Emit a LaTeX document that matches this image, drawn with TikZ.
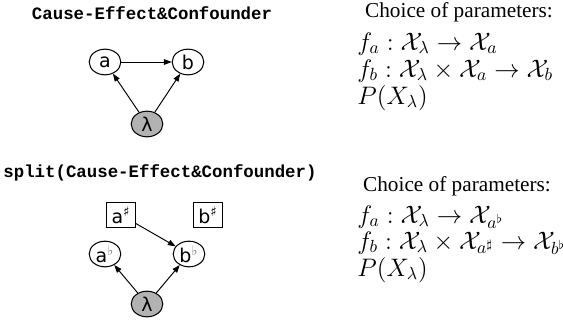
\documentclass[tikz,border=0pt]{standalone}
\usepackage{fontspec}
\usepackage{amsmath}
\setmainfont{Liberation Serif}
\setmonofont{Liberation Mono}
\newfontfamily\nodefont{DejaVu Sans}
\usepackage{tikz}
\usetikzlibrary{positioning, arrows.meta, shapes.geometric}
\usepackage{xcolor}

\tikzset{
  var/.style={ellipse, draw, line width=0.6pt, minimum width=18pt, minimum height=14.6pt,
              inner sep=0pt, font=\nodefont\fontsize{10.8}{11}\selectfont},
  hidden/.style={var, fill=gray!60},
  intv/.style={rectangle, draw, line width=0.6pt, minimum width=16pt, minimum height=14.4pt,
               inner sep=0pt, font=\nodefont\fontsize{10.8}{11}\selectfont},
  edge/.style={-{Triangle[length=4.4pt,width=3.2pt]}, line width=0.55pt},
  title/.style={font=\ttfamily\bfseries\fontsize{9.9}{11}\selectfont},
  param/.style={font=\fontsize{12.1}{14}\selectfont},
  eqn/.style={anchor=base west, inner sep=0pt, font=\fontsize{14.7}{17}\selectfont}
}

\begin{document}
\begin{tikzpicture}[x=0.02cm, y=-0.02cm]
    \useasboundingbox (0,0) rectangle (563,328);

    % top: the plain graph
    \node[title] (t1) at (152,13) {Cause-Effect\&Confounder};
    \node[var] (a) at (105,62) {a};
    \node[var] (b) at (188,62) {b};
    \node[hidden] (l) at (147,124) {λ};
    \foreach \u/\v in {a/b, l/a, l/b}
      \draw[edge] (\u) -- (\v);

    \node[param] (c1) at (459,12) {Choice of parameters:};
    \node[eqn] (e1) at (357,50) {$f_a : \mathcal{X}_\lambda \to \mathcal{X}_a$};
    \node[eqn] (e2) at (357,77) {$f_b : \mathcal{X}_\lambda \times \mathcal{X}_a \to \mathcal{X}_b$};
    \node[eqn] (e3) at (357,104) {$P(X_\lambda)$};

    % bottom: the split graph
    \node[title] (t2) at (160,173) {split(Cause-Effect\&Confounder)};
    \node[intv] (as) at (121,215) {a\textsuperscript{♯}};
    \node[intv] (bs) at (208,215) {b\textsuperscript{♯}};
    \node[var] (af) at (105,254) {a\textsuperscript{\color{gray}♭}};
    \node[var] (bf) at (189,254) {b\textsuperscript{\color{gray}♭}};
    \node[hidden] (l2) at (147,304) {λ};
    \foreach \u/\v in {as/bf, l2/af, l2/bf}
      \draw[edge] (\u) -- (\v);

    \node[param] (c2) at (457,186) {Choice of parameters:};
    \node[eqn] (f1) at (357,223) {$f_a : \mathcal{X}_\lambda \to \mathcal{X}_{a^\flat}$};
    \node[eqn] (f2) at (357,249) {$f_b : \mathcal{X}_\lambda \times \mathcal{X}_{a^\sharp} \to \mathcal{X}_{b^\flat}$};
    \node[eqn] (f3) at (357,276) {$P(X_\lambda)$};
\end{tikzpicture}
\end{document}
